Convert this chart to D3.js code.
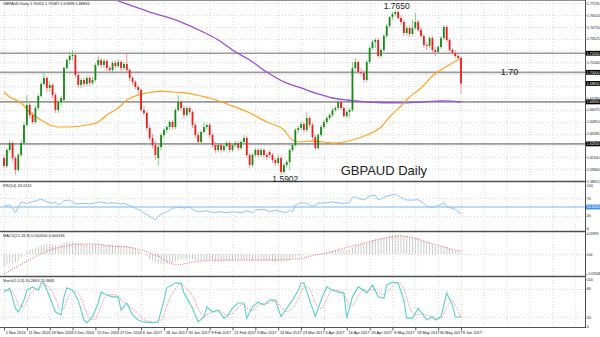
<!DOCTYPE html>
<html><head><meta charset="utf-8">
<script src="https://cdn.jsdelivr.net/npm/d3@7"></script>
<style>body{margin:0;background:#fff}svg{display:block}text{font-family:Arial,"Liberation Sans",sans-serif}</style>
</head><body><svg id="c" width="600" height="337"></svg>
<script>
const dateLabels=["1 Nov 2016","11 Nov 2016","23 Nov 2016","5 Dec 2016","15 Dec 2016","27 Dec 2016","6 Jan 2017","18 Jan 2017","30 Jan 2017","9 Feb 2017","21 Feb 2017","3 Mar 2017","14 Mar 2017","23 Mar 2017","4 Apr 2017","14 Apr 2017","26 Apr 2017","8 May 2017","18 May 2017","30 May 2017","9 Jun 2017"];
const ohlc=[
[1.6102,1.6134,1.5997,1.6018],[1.6018,1.6207,1.5997,1.6186],[1.6186,1.6291,1.6155,1.6259],[1.6259,1.6280,1.6071,1.6102],[1.6102,1.6123,1.5924,1.5976],
[1.5976,1.6155,1.5955,1.6134],[1.6134,1.6291,1.6113,1.6259],[1.6259,1.6479,1.6238,1.6448],[1.6448,1.6762,1.6427,1.6658],[1.6658,1.6689,1.6521,1.6553],
[1.6553,1.6584,1.6458,1.6479],[1.6479,1.6647,1.6458,1.6626],[1.6626,1.6773,1.6605,1.6752],[1.6752,1.6899,1.6731,1.6878],[1.6878,1.7003,1.6857,1.6941],
[1.6941,1.6961,1.6794,1.6836],[1.6836,1.6899,1.6794,1.6867],[1.6867,1.6888,1.6731,1.6762],[1.6762,1.6783,1.6574,1.6605],[1.6605,1.6710,1.6574,1.6689],
[1.6689,1.6752,1.6647,1.6731],[1.6710,1.7066,1.6689,1.7045],[1.7045,1.7150,1.7025,1.7129],[1.7129,1.7213,1.7087,1.7171],[1.7171,1.7234,1.7129,1.7182],
[1.7182,1.7203,1.6941,1.6972],[1.6972,1.6993,1.6836,1.6867],[1.6867,1.6941,1.6836,1.6920],[1.6920,1.6951,1.6846,1.6878],[1.6878,1.6961,1.6857,1.6941],
[1.6941,1.6972,1.6857,1.6888],[1.6888,1.6951,1.6867,1.6920],[1.6920,1.7098,1.6899,1.7077],[1.7077,1.7171,1.7056,1.7129],[1.7129,1.7150,1.7045,1.7077],
[1.7077,1.7140,1.7045,1.7119],[1.7119,1.7140,1.7014,1.7045],[1.7045,1.7066,1.6993,1.7025],[1.7025,1.7119,1.7003,1.7098],[1.7098,1.7129,1.7035,1.7066],
[1.7066,1.7140,1.7045,1.7108],[1.7108,1.7129,1.7014,1.7045],[1.7045,1.7108,1.7025,1.7087],[1.7087,1.7203,1.6993,1.7025],[1.7025,1.7045,1.6909,1.6941],
[1.6941,1.6961,1.6867,1.6899],[1.6899,1.6920,1.6825,1.6846],[1.6846,1.6867,1.6752,1.6815],[1.6815,1.6836,1.6584,1.6605],[1.6605,1.6647,1.6542,1.6574],
[1.6574,1.6595,1.6385,1.6417],[1.6417,1.6448,1.6280,1.6312],[1.6312,1.6354,1.6207,1.6238],[1.6238,1.6280,1.6081,1.6134],[1.6102,1.6238,1.6018,1.6217],
[1.6217,1.6364,1.6186,1.6343],[1.6343,1.6417,1.6312,1.6396],[1.6396,1.6448,1.6364,1.6427],[1.6427,1.6500,1.6396,1.6479],[1.6479,1.6500,1.6396,1.6427],
[1.6427,1.6626,1.6406,1.6605],[1.6605,1.6762,1.6584,1.6689],[1.6689,1.6710,1.6595,1.6626],[1.6626,1.6658,1.6521,1.6553],[1.6553,1.6647,1.6532,1.6626],
[1.6626,1.6647,1.6553,1.6584],[1.6584,1.6605,1.6417,1.6448],[1.6448,1.6469,1.6312,1.6343],[1.6343,1.6375,1.6238,1.6270],[1.6270,1.6396,1.6249,1.6375],
[1.6375,1.6479,1.6354,1.6427],[1.6427,1.6469,1.6396,1.6448],[1.6448,1.6469,1.6312,1.6343],[1.6343,1.6364,1.6207,1.6238],[1.6238,1.6270,1.6155,1.6186],
[1.6186,1.6259,1.6165,1.6238],[1.6238,1.6259,1.6155,1.6186],[1.6186,1.6249,1.6165,1.6228],[1.6228,1.6280,1.6207,1.6259],[1.6259,1.6280,1.6155,1.6186],
[1.6186,1.6259,1.6165,1.6238],[1.6238,1.6280,1.6217,1.6259],[1.6259,1.6280,1.6176,1.6207],[1.6207,1.6291,1.6186,1.6270],[1.6270,1.6343,1.6249,1.6312],
[1.6312,1.6333,1.6102,1.6134],[1.6134,1.6155,1.5997,1.6029],[1.6029,1.6155,1.6008,1.6134],[1.6134,1.6207,1.6113,1.6186],[1.6186,1.6207,1.6102,1.6134],
[1.6134,1.6207,1.6113,1.6186],[1.6186,1.6207,1.6102,1.6134],[1.6134,1.6155,1.6081,1.6113],[1.6165,1.6186,1.6102,1.6134],[1.6134,1.6155,1.6050,1.6081],
[1.6081,1.6102,1.6018,1.6050],[1.6050,1.6134,1.6029,1.6102],[1.6102,1.6123,1.5924,1.5955],[1.5955,1.6050,1.5934,1.6029],[1.6029,1.6081,1.5997,1.6060],
[1.6060,1.6207,1.5976,1.6186],[1.6186,1.6259,1.6165,1.6238],[1.6238,1.6417,1.6217,1.6396],[1.6396,1.6438,1.6364,1.6417],[1.6417,1.6479,1.6396,1.6458],
[1.6458,1.6479,1.6364,1.6396],[1.6396,1.6584,1.6375,1.6521],[1.6521,1.6542,1.6417,1.6448],[1.6448,1.6469,1.6291,1.6322],[1.6322,1.6343,1.6186,1.6207],
[1.6207,1.6364,1.6186,1.6343],[1.6343,1.6448,1.6322,1.6427],[1.6427,1.6500,1.6406,1.6479],[1.6479,1.6542,1.6458,1.6521],[1.6521,1.6574,1.6500,1.6553],
[1.6553,1.6626,1.6532,1.6605],[1.6605,1.6647,1.6584,1.6626],[1.6626,1.6731,1.6605,1.6689],[1.6689,1.6710,1.6605,1.6626],[1.6626,1.6647,1.6521,1.6542],
[1.6542,1.6605,1.6521,1.6584],[1.6584,1.6626,1.6521,1.6605],[1.6605,1.7108,1.6584,1.7045],[1.7045,1.7150,1.7025,1.7108],[1.7108,1.7129,1.6982,1.7003],
[1.7003,1.7045,1.6972,1.6993],[1.6993,1.7025,1.6888,1.6920],[1.6920,1.7129,1.6899,1.7108],[1.7108,1.7276,1.7087,1.7255],[1.7255,1.7339,1.7234,1.7318],
[1.7318,1.7360,1.7255,1.7339],[1.7339,1.7360,1.7150,1.7171],[1.7171,1.7255,1.7150,1.7234],[1.7234,1.7402,1.7213,1.7381],[1.7381,1.7506,1.7360,1.7486],
[1.7486,1.7590,1.7465,1.7580],[1.7580,1.7632,1.7548,1.7611],[1.7611,1.7650,1.7590,1.7632],[1.7632,1.7650,1.7548,1.7569],[1.7569,1.7601,1.7496,1.7527],
[1.7527,1.7548,1.7381,1.7412],[1.7412,1.7486,1.7381,1.7465],[1.7465,1.7496,1.7370,1.7402],[1.7402,1.7548,1.7381,1.7465],[1.7465,1.7622,1.7444,1.7527],
[1.7527,1.7548,1.7423,1.7444],[1.7444,1.7475,1.7360,1.7381],[1.7381,1.7402,1.7255,1.7286],[1.7286,1.7318,1.7234,1.7276],[1.7276,1.7381,1.7255,1.7360],
[1.7360,1.7381,1.7203,1.7234],[1.7234,1.7265,1.7171,1.7213],[1.7213,1.7286,1.7192,1.7265],[1.7265,1.7381,1.7244,1.7360],[1.7360,1.7496,1.7339,1.7475],
[1.7475,1.7496,1.7318,1.7339],[1.7339,1.7360,1.7213,1.7234],[1.7234,1.7255,1.7182,1.7203],[1.7203,1.7234,1.7150,1.7171],[1.7171,1.7203,1.7129,1.7150],
[1.7150,1.7171,1.6770,1.6883]];
const ma50Bars=[0,2,6,9,13,16,19,23,29,33,36,40,43,47,50,55,59,64,69,72,79,86,92,98,101,104,107,112,115,119,122,127,132,135,139,142,146,150,154,157,160];
const ma50=[1.6794,1.6741,1.6679,1.6584,1.6500,1.6448,1.6427,1.6427,1.6448,1.6479,1.6553,1.6626,1.6710,1.6762,1.6783,1.6804,1.6794,1.6783,1.6752,1.6731,1.6658,1.6574,1.6479,1.6396,1.6291,1.6270,1.6280,1.6270,1.6259,1.6270,1.6291,1.6343,1.6427,1.6532,1.6647,1.6741,1.6836,1.6961,1.7045,1.7098,1.7150];
const ma200Bars=[0,20,39,51,62,69,75,80,86,92,98,104,110,115,120,127,139,146,153,160];
const ma200=[1.8168,1.7958,1.7758,1.7632,1.7527,1.7433,1.7339,1.7234,1.7129,1.7003,1.6899,1.6836,1.6773,1.6731,1.6710,1.6689,1.6679,1.6689,1.6700,1.6689];
const rsiBars=[0,2,4,6,8,10,13,15,17,18,19,20,21,23,24,25,28,30,32,34,36,38,41,42,45,46,48,49,50,51,52,53,54,55,57,59,62,63,65,66,68,71,73,76,78,80,83,85,87,88,91,93,95,97,99,100,101,102,104,106,108,110,113,115,118,119,121,122,123,124,126,128,130,131,134,137,139,141,143,145,147,148,150,151,153,154,155,157,158,160];
const rsi=[51,55,37,62,58.5,62,68,62,58.5,62,54.6,58.5,64.5,66,62,57,58.5,57,60,62,58.5,60,57,58.5,50.7,47,41.5,35.5,33,28,25,20,28,33,39,47,50.7,47,50.7,44.7,39,41.5,37,39,37,39,37,41.5,37,43,44.7,39,43,39,37,43,39,54.6,60,58.5,50.7,58.5,60,62,58.5,58.5,60,72,74,70,66,75,77.6,66,75,80,72,66,66,67,58.5,52,49,50.7,56,60,50.7,47,44.7,34];
const macdMain=[
-0.018,-0.016,-0.014,-0.013,-0.012,-0.009,-0.005,-0.001,0.004,0.006,
0.007,0.009,0.011,0.013,0.015,0.015,0.015,0.014,0.013,0.013,
0.015,0.017,0.018,0.018,0.018,0.017,0.016,0.015,0.015,0.014,
0.014,0.014,0.015,0.015,0.015,0.015,0.014,0.014,0.014,0.013,
0.013,0.013,0.012,0.012,0.011,0.010,0.008,0.006,0.003,0.000,
-0.003,-0.007,-0.010,-0.013,-0.014,-0.015,-0.015,-0.015,-0.014,-0.013,
-0.011,-0.009,-0.008,-0.008,-0.007,-0.007,-0.008,-0.009,-0.010,-0.010,
-0.009,-0.009,-0.009,-0.010,-0.011,-0.011,-0.011,-0.011,-0.010,-0.010,
-0.010,-0.009,-0.009,-0.009,-0.008,-0.009,-0.010,-0.010,-0.010,-0.010,
-0.010,-0.010,-0.010,-0.010,-0.011,-0.011,-0.011,-0.012,-0.011,-0.010,
-0.008,-0.006,-0.004,-0.003,-0.002,-0.001,0.001,0.001,0.000,-0.001,
0.000,0.001,0.002,0.003,0.004,0.005,0.006,0.007,0.007,0.006,
0.006,0.006,0.010,0.013,0.014,0.015,0.015,0.017,0.019,0.021,
0.023,0.023,0.024,0.025,0.027,0.028,0.0293,0.0299,0.0297,0.029,
0.028,0.027,0.026,0.025,0.025,0.024,0.022,0.020,0.018,0.017,
0.015,0.013,0.012,0.011,0.011,0.010,0.008,0.007,0.006,0.005,
0.002];
const signalBars=[0,5,10,16,22,27,32,37,43,48,51,55,58,61,64,69,80,92,104,108,113,118,125,132,136,139,142,148,154,160];
const macdSignal=[-0.0295,-0.0175,-0.006,0.006,0.012,0.015,0.015,0.012,0.0106,0.006,0.0016,-0.005,-0.013,-0.016,-0.0135,-0.0103,-0.0088,-0.0088,-0.0065,-0.0021,0.0016,0.0076,0.015,0.0224,0.0254,0.0269,0.0254,0.018,0.0106,0.0042];
const stochBars=[0,1,2,4,5,7,8,10,12,13,14,16,18,20,21,22,24,26,28,29,31,33,34,36,38,40,41,43,45,47,49,52,54,56,57,60,62,63,66,68,70,71,73,75,77,78,80,82,84,85,87,89,91,93,95,97,99,101,103,104,105,107,109,111,113,115,117,119,120,122,124,126,127,129,131,133,134,136,138,140,141,143,145,146,148,150,151,153,155,157,158,160];
const stochK=[74,77,81,39,31,56,77,84,77,92,92,63,31,25,63,82,77,56,14,8,21,50,73,67,63,63,35,50,25,14,10,8,10,56,82,92,92,71,39,10,21,42,31,35,18,21,39,50,50,18,42,52,46,56,56,21,39,56,77,92,92,56,21,56,84,77,73,71,18,63,84,77,71,88,63,60,88,94,92,56,18,18,39,31,14,21,14,21,71,46,21,20.27];
const stochD=[78,76,78,62,48,42,55,75,80,84,88,82,60,35,40,55,75,70,45,28,15,28,45,65,68,64,55,48,38,28,15,10,9,25,45,80,92,85,65,38,22,25,32,35,28,24,28,40,48,40,35,45,48,50,55,42,32,40,58,72,85,80,50,38,58,78,76,72,55,45,65,78,76,78,72,68,72,85,92,80,60,30,25,28,25,20,18,18,40,55,45,20.38];
const priceTicks=[1.77235,1.76010,1.74750,1.73525,1.72290,1.71040,1.69805,1.68570,1.67295,1.66075,1.64810,1.63585,1.62350,1.61100,1.59840,1.58615];
const levelLines=[1.72000,1.70000,1.66900,1.62500];
const markedPrices=[1.72000,1.70000,1.68834,1.66900,1.62500];
const annotations=[{t:"1.7650",bar:137.5,p:1.7685,size:8.5},{t:"1.5902",bar:98.5,p:1.5876,size:8.5},{t:"1.70",bar:177,p:1.7000,size:9},{t:"GBPAUD Daily",bar:133,p:1.5955,size:13}];

const svg=d3.select('#c');
const R=585;
const AX=3.5;
const x=d3.scaleLinear().domain([0,160]).range([4,461]);
const yP=d3.scaleLinear().domain([1.58611,1.77475]).range([181,1]);
const yR=d3.scaleLinear().domain([0,100]).range([228.7,185.3]);
const yM=d3.scaleLinear().domain([-0.029548,0.029876]).range([274,234]);
const yS=d3.scaleLinear().domain([0,100]).range([326.7,279.3]);
const panels=[{id:'pm',t:0,b:181},{id:'pr',t:182,b:231},{id:'pd',t:232,b:276},{id:'ps',t:277,b:327}];
const defs=svg.append('defs');
panels.forEach(p=>defs.append('clipPath').attr('id',p.id).append('rect').attr('x',0).attr('y',p.t).attr('width',R).attr('height',p.b-p.t));

const vg=svg.append('g');
panels.forEach(p=>{
  vg.append('g').attr('clip-path',`url(#${p.id})`).selectAll('line').data(d3.range(0,208,8)).join('line')
   .attr('x1',d=>x(d)+0.5).attr('x2',d=>x(d)+0.5).attr('y1',p.t).attr('y2',p.b)
   .attr('stroke','#c8c8c8').attr('stroke-width',0.7).attr('stroke-dasharray','1,2');
});
function hgrid(vals,sc){svg.append('g').selectAll('line').data(vals).join('line').attr('x1',0).attr('x2',R).attr('y1',d=>Math.round(sc(d))+0.5).attr('y2',d=>Math.round(sc(d))+0.5).attr('stroke','#c8c8c8').attr('stroke-width',0.7).attr('stroke-dasharray','1,2');}
hgrid(priceTicks,yP);hgrid([70,30],yR);hgrid([0],yM);hgrid([80,20],yS);

svg.append('g').selectAll('line').data(levelLines).join('line').attr('x1',0).attr('x2',R).attr('y1',d=>yP(d)).attr('y2',d=>yP(d)).attr('stroke','#9a9a9a').attr('stroke-width',1.6);

const gm=svg.append('g').attr('clip-path','url(#pm)');
gm.append('path').datum(ma200Bars.map((b,i)=>[b,ma200[i]])).attr('d',d3.line().x(d=>x(d[0])).y(d=>yP(d[1])).curve(d3.curveMonotoneX)).attr('fill','none').attr('stroke','#9a4fd6').attr('stroke-width',1.3);
gm.append('path').datum(ma50Bars.map((b,i)=>[b,ma50[i]])).attr('d',d3.line().x(d=>x(d[0])).y(d=>yP(d[1])).curve(d3.curveMonotoneX)).attr('fill','none').attr('stroke','#ffa41c').attr('stroke-width',1.2);
const cg=gm.selectAll('g.c').data(ohlc).join('g');
cg.append('line').attr('x1',(d,i)=>x(i)).attr('x2',(d,i)=>x(i)).attr('y1',d=>yP(d[1])).attr('y2',d=>yP(d[2]))
  .attr('stroke',d=>d[3]>=d[0]?'#6fbf6f':'#f47f7f').attr('stroke-width',0.8);
cg.append('rect').attr('x',(d,i)=>x(i)-0.9).attr('width',1.8).attr('y',d=>yP(Math.max(d[0],d[3]))).attr('height',d=>Math.max(0.8,Math.abs(yP(d[0])-yP(d[3]))))
  .attr('fill',d=>d[3]>=d[0]?'#178a17':'#f01a1a');

const gr=svg.append('g').attr('clip-path','url(#pr)');
gr.append('line').attr('x1',0).attr('x2',R).attr('y1',yR(50)).attr('y2',yR(50)).attr('stroke','#7ab4ee').attr('stroke-width',1);
gr.append('path').datum(rsiBars.map((b,i)=>[b,rsi[i]])).attr('d',d3.line().x(d=>x(d[0])).y(d=>yR(d[1]))).attr('fill','none').attr('stroke','#8fc4f5').attr('stroke-width',1);

const gd=svg.append('g').attr('clip-path','url(#pd)');
gd.selectAll('line.h').data(macdMain).join('line').attr('x1',(d,i)=>x(i)).attr('x2',(d,i)=>x(i)).attr('y1',yM(0)).attr('y2',d=>yM(d)).attr('stroke','#c4c4c4').attr('stroke-width',0.9);
gd.append('path').datum(signalBars.map((b,i)=>[b,macdSignal[i]])).attr('d',d3.line().x(d=>x(d[0])).y(d=>yM(d[1])).curve(d3.curveMonotoneX)).attr('fill','none').attr('stroke','#f06a6a').attr('stroke-width',1).attr('stroke-dasharray','1,1.3');

const gs=svg.append('g').attr('clip-path','url(#ps)');
gs.append('path').datum(stochBars.map((b,i)=>[b,stochD[i]])).attr('d',d3.line().x(d=>x(d[0])).y(d=>yS(d[1])).curve(d3.curveMonotoneX)).attr('fill','none').attr('stroke','#f07a7a').attr('stroke-width',1).attr('stroke-dasharray','1,1.3');
gs.append('path').datum(stochBars.map((b,i)=>[b,stochK[i]])).attr('d',d3.line().x(d=>x(d[0])).y(d=>yS(d[1]))).attr('fill','none').attr('stroke','#63d2cd').attr('stroke-width',1.2);

svg.append('g').selectAll('line').data([181,231,276]).join('line').attr('x1',0).attr('x2',R).attr('y1',d=>d+0.5).attr('y2',d=>d+0.5).attr('stroke','#505050').attr('stroke-width',1.6);
svg.append('line').attr('x1',0).attr('x2',R).attr('y1',0.5).attr('y2',0.5).attr('stroke','#909090').attr('stroke-width',1);
svg.append('line').attr('x1',0).attr('x2',R+0.5).attr('y1',327.5).attr('y2',327.5).attr('stroke','#505050').attr('stroke-width',1);
svg.append('line').attr('x1',R+0.5).attr('x2',R+0.5).attr('y1',0).attr('y2',328).attr('stroke','#505050').attr('stroke-width',1);

function rAxis(sc,vals,fmt,fs){
  const a=svg.append('g').attr('transform',`translate(${R+0.5},0)`).call(d3.axisRight(sc).tickValues(vals).tickFormat(fmt).tickSize(1).tickPadding(0.5));
  a.select('.domain').remove();
  a.selectAll('text').attr('font-size',fs).attr('fill','#111');
  a.selectAll('line').attr('stroke','#555');
}
const visiblePriceTicks=priceTicks.filter(v=>markedPrices.every(m=>Math.abs(yP(v)-yP(m))>3.5));
rAxis(yP,visiblePriceTicks,d3.format('.5f'),AX);
rAxis(yR,[100,70,30,0],d3.format('d'),AX);
rAxis(yM,[0.029876,0,-0.029548],d=>d===0?'0.00':d3.format('.6f')(d),2.75);
rAxis(yS,[100,80,20,0],d3.format('d'),AX);
const mb=svg.append('g').selectAll('g').data(markedPrices).join('g').attr('transform',d=>`translate(${R+1},${yP(d)})`);
mb.append('rect').attr('x',0).attr('y',-2.4).attr('width',14).attr('height',4.8).attr('fill','#000');
mb.append('text').attr('x',0.8).attr('y',1.5).attr('font-size',AX).attr('fill','#fff').text(d=>d3.format('.5f')(d));
const rb=svg.append('g').attr('transform',`translate(${R+1},${yR(50)})`);
rb.append('rect').attr('x',0).attr('y',-2.4).attr('width',14).attr('height',4.8).attr('fill','#3d8ee8');
rb.append('text').attr('x',0.8).attr('y',1.3).attr('font-size',AX).attr('fill','#fff').text(d3.format('.4f')(50));

const xa=svg.append('g').attr('transform','translate(0,327.5)').call(d3.axisBottom(x).tickValues(d3.range(0,161,8)).tickFormat((d,i)=>dateLabels[i]).tickSize(3).tickPadding(1));
xa.select('.domain').remove();
xa.selectAll('line').attr('stroke','#555');
xa.selectAll('text').attr('font-size',3.9).attr('fill','#111').attr('text-anchor','start').attr('dx',1.2);

const titles=[{t:"GBPAUD,Daily  1.70312 1.70587 1.67698 1.68834",y:5},{t:"RSI(14) 34.0141",y:187},{t:"MACD(12,26,9) 0.002006 0.004196",y:237},{t:"Stoch(5,3,3) 20.2663 20.3845",y:282}];
svg.append('g').selectAll('text').data(titles).join('text').attr('x',3).attr('y',d=>d.y).attr('font-size',3.9).attr('fill','#222').text(d=>d.t);

svg.append('g').selectAll('text').data(annotations).join('text').attr('x',d=>x(d.bar)).attr('y',d=>yP(d.p)).attr('text-anchor','middle').attr('dominant-baseline','middle')
  .attr('font-size',d=>d.size).attr('fill','#222').text(d=>d.t);
</script></body></html>
